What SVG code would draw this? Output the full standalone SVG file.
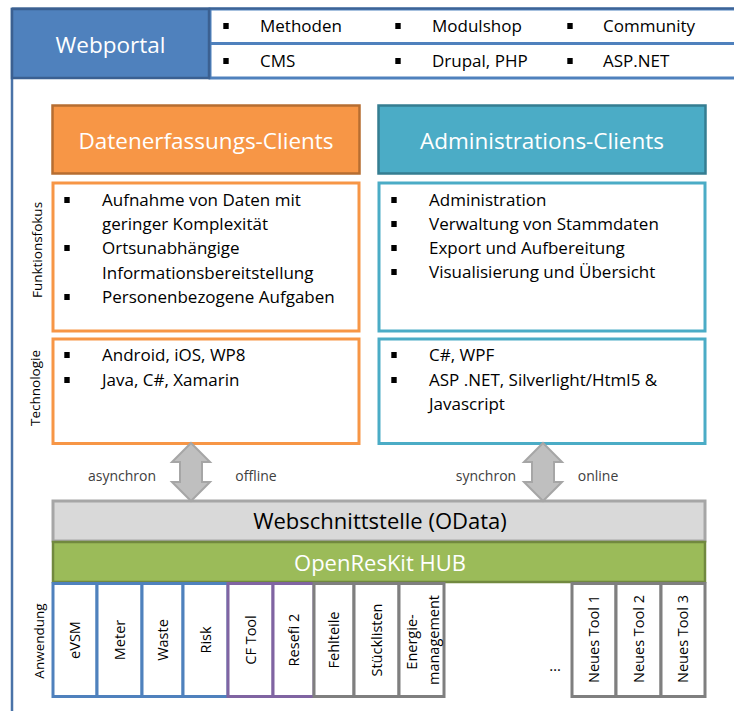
<svg xmlns="http://www.w3.org/2000/svg" width="734" height="711" viewBox="0 0 734 711">
  <defs>
    <style>
      text { font-family: "Open Sans", "Liberation Sans", sans-serif; }
      .t17 { font-size: 17px; fill: #000; }
      .head { font-size: 22.5px; fill: #fff; text-anchor: middle; }
      .side { font-size: 13.5px; fill: #000; text-anchor: middle; }
      .col { font-size: 14.5px; fill: #000; text-anchor: middle; }
      .small { font-size: 14px; fill: #404040; text-anchor: middle; }
      .panel { fill: #fff; stroke-width: 3; }
      .orange { stroke: #F79646; }
      .cyan { stroke: #4BACC6; }
      .tool { fill: #fff; stroke-width: 3; }
      .tb { stroke: #4F81BD; }
      .tp { stroke: #8064A2; }
      .tg { stroke: #7F7F7F; }
      .arrow { fill: #BFBFBF; stroke: #A6A6A6; stroke-width: 2; stroke-linejoin: miter; }
    </style>
    <rect id="bullet" x="-2.7" y="-3" width="5.4" height="6" fill="#000"/>
  </defs>

  <!-- outer frame -->
  <rect x="12" y="9" width="740" height="720" fill="#fff" stroke="#4A73A8" stroke-width="2.5"/>

  <!-- Webportal row -->
  <g id="webportal-features">
    <rect x="210" y="9" width="540" height="34.5" fill="#fff" stroke="#4F81BD" stroke-width="3"/>
    <rect x="210" y="43.5" width="540" height="34.5" fill="#fff" stroke="#4F81BD" stroke-width="3"/>
    <line x1="12" y1="8.5" x2="734" y2="8.5" stroke="#3E6394" stroke-width="2"/>
    <use href="#bullet" x="226" y="26"/>
    <use href="#bullet" x="398" y="26"/>
    <use href="#bullet" x="570" y="26"/>
    <use href="#bullet" x="226" y="61"/>
    <use href="#bullet" x="398" y="61"/>
    <use href="#bullet" x="570" y="61"/>
    <text class="t17" x="260" y="32">Methoden</text>
    <text class="t17" x="432" y="32">Modulshop</text>
    <text class="t17" x="603" y="32">Community</text>
    <text class="t17" x="260" y="67">CMS</text>
    <text class="t17" x="432" y="67">Drupal, PHP</text>
    <text class="t17" x="603" y="67">ASP.NET</text>
  </g>
  <g id="webportal">
    <rect x="12" y="9" width="197" height="69" fill="#4F81BD" stroke="#3B6091" stroke-width="2.5"/>
    <text class="head" x="110.5" y="53">Webportal</text>
  </g>

  <!-- side labels -->
  <g id="side-labels">
    <text class="side" transform="translate(42 250) rotate(-90)">Funktionsfokus</text>
    <text class="side" transform="translate(40 388) rotate(-90)">Technologie</text>
    <text class="side" transform="translate(44 641) rotate(-90)">Anwendung</text>
  </g>

  <!-- data capture clients -->
  <g id="datenerfassungs-clients">
    <rect x="52.5" y="105.5" width="307" height="68" fill="#F79646" stroke="#B66D31" stroke-width="2.5"/>
    <text class="head" x="206" y="149">Datenerfassungs-Clients</text>
  </g>
  <g id="datenerfassung-funktion">
    <rect class="panel orange" x="53" y="183" width="306" height="148"/>
    <use href="#bullet" x="67" y="200"/>
    <use href="#bullet" x="67" y="248"/>
    <use href="#bullet" x="67" y="297"/>
    <text class="t17" x="102" y="206">Aufnahme von Daten mit</text>
    <text class="t17" x="102" y="230">geringer Komplexität</text>
    <text class="t17" x="102" y="254">Ortsunabhängige</text>
    <text class="t17" x="102" y="279">Informationsbereitstellung</text>
    <text class="t17" x="102" y="303">Personenbezogene Aufgaben</text>
  </g>
  <g id="datenerfassung-technologie">
    <rect class="panel orange" x="53" y="339" width="306" height="104.5"/>
    <use href="#bullet" x="67" y="355"/>
    <use href="#bullet" x="67" y="380"/>
    <text class="t17" x="102" y="361">Android, iOS, WP8</text>
    <text class="t17" x="102" y="386">Java, C#, Xamarin</text>
  </g>

  <!-- administration clients -->
  <g id="administrations-clients">
    <rect x="378.5" y="105.5" width="327" height="68" fill="#4BACC6" stroke="#357D91" stroke-width="2.5"/>
    <text class="head" x="542" y="149">Administrations-Clients</text>
  </g>
  <g id="administration-funktion">
    <rect class="panel cyan" x="379" y="183" width="326" height="148"/>
    <use href="#bullet" x="394" y="200"/>
    <use href="#bullet" x="394" y="224"/>
    <use href="#bullet" x="394" y="248"/>
    <use href="#bullet" x="394" y="272"/>
    <text class="t17" x="429" y="206">Administration</text>
    <text class="t17" x="429" y="230">Verwaltung von Stammdaten</text>
    <text class="t17" x="429" y="254">Export und Aufbereitung</text>
    <text class="t17" x="429" y="278">Visualisierung und Übersicht</text>
  </g>
  <g id="administration-technologie">
    <rect class="panel cyan" x="379" y="339" width="326" height="104.5"/>
    <use href="#bullet" x="394" y="355"/>
    <use href="#bullet" x="394" y="380"/>
    <text class="t17" x="429" y="361">C#, WPF</text>
    <text class="t17" x="429" y="386">ASP .NET, Silverlight/Html5 &amp;</text>
    <text class="t17" x="429" y="410">Javascript</text>
  </g>

  <!-- interface and hub -->
  <g id="webschnittstelle">
    <rect x="53" y="501" width="652" height="40" fill="#D9D9D9" stroke="#A6A6A6" stroke-width="3"/>
    <text x="380" y="529" font-size="22" fill="#000" text-anchor="middle">Webschnittstelle (OData)</text>
  </g>
  <g id="openreskit-hub">
    <rect x="53" y="542" width="652" height="40" fill="#9BBB59" stroke="#71893F" stroke-width="2.5"/>
    <text x="380" y="571" font-size="22" fill="#fff" text-anchor="middle">OpenResKit HUB</text>
  </g>

  <!-- connectors between clients and interface -->
  <g id="connectors">
    <polygon class="arrow" points="191,443 210,462 202,462 202,482 210,482 191,501 172,482 180,482 180,462 172,462"/>
    <polygon class="arrow" points="543,443 562,462 554,462 554,482 562,482 543,501 524,482 532,482 532,462 524,462"/>
    <text class="small" x="122" y="481">asynchron</text>
    <text class="small" x="256" y="481">offline</text>
    <text class="small" x="486" y="481">synchron</text>
    <text class="small" x="598" y="481">online</text>
  </g>

  <!-- application tools -->
  <g id="tool-evsm">
    <rect class="tool tb" x="53" y="583.5" width="44" height="113"/>
    <text class="col" transform="translate(80 640) rotate(-90)">eVSM</text>
  </g>
  <g id="tool-meter">
    <rect class="tool tb" x="97" y="583.5" width="45" height="113"/>
    <text class="col" transform="translate(125 640) rotate(-90)">Meter</text>
  </g>
  <g id="tool-waste">
    <rect class="tool tb" x="142" y="583.5" width="41" height="113"/>
    <text class="col" transform="translate(167.5 640) rotate(-90)">Waste</text>
  </g>
  <g id="tool-risk">
    <rect class="tool tb" x="183" y="583.5" width="45" height="113"/>
    <text class="col" transform="translate(210.5 640) rotate(-90)">Risk</text>
  </g>
  <g id="tool-cf">
    <rect class="tool tp" x="228" y="583.5" width="45" height="113"/>
    <text class="col" transform="translate(255.5 640) rotate(-90)">CF Tool</text>
  </g>
  <g id="tool-resefi">
    <rect class="tool tp" x="273" y="583.5" width="41" height="113"/>
    <text class="col" transform="translate(298.5 640) rotate(-90)">Resefi 2</text>
  </g>
  <g id="tool-fehlteile">
    <rect class="tool tg" x="314" y="583.5" width="40" height="113"/>
    <text class="col" transform="translate(339 640) rotate(-90)">Fehlteile</text>
  </g>
  <g id="tool-stuecklisten">
    <rect class="tool tg" x="354" y="583.5" width="45" height="113"/>
    <text class="col" transform="translate(381.5 640) rotate(-90)">Stücklisten</text>
  </g>
  <g id="tool-energie">
    <rect class="tool tg" x="399" y="583.5" width="45" height="113"/>
    <text class="col" transform="translate(416.5 642) rotate(-90)">Energie-</text>
    <text class="col" transform="translate(438.5 640) rotate(-90)">management</text>
  </g>
  <text x="555" y="671" font-size="15" fill="#000" text-anchor="middle">…</text>
  <g id="tool-neu-1">
    <rect class="tool tg" x="572" y="583.5" width="44" height="113"/>
    <text class="col" transform="translate(599 639) rotate(-90)">Neues Tool 1</text>
  </g>
  <g id="tool-neu-2">
    <rect class="tool tg" x="616" y="583.5" width="45" height="113"/>
    <text class="col" transform="translate(643.5 639) rotate(-90)">Neues Tool 2</text>
  </g>
  <g id="tool-neu-3">
    <rect class="tool tg" x="661" y="583.5" width="44" height="113"/>
    <text class="col" transform="translate(688 639) rotate(-90)">Neues Tool 3</text>
  </g>
</svg>
